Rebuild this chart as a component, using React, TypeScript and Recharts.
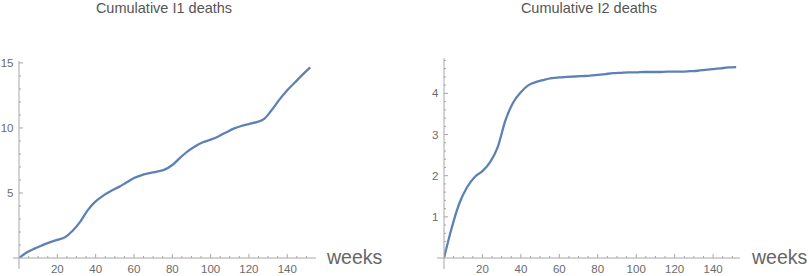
import React from 'react';
import { LineChart, Line, XAxis, YAxis, ReferenceLine } from 'recharts';

const weeks = [0, 4, 8, 12, 16, 20, 24, 28, 32, 36, 40, 44, 48, 52, 56, 60, 64, 68, 72, 76, 80, 84, 88, 92, 96, 100, 104, 108, 112, 116, 120, 124, 128, 132, 136, 140, 144, 148, 152];
const i1Deaths = [0, 0.42, 0.72, 0.97, 1.2, 1.4, 1.6, 2.1, 2.8, 3.7, 4.35, 4.8, 5.15, 5.45, 5.8, 6.15, 6.38, 6.52, 6.65, 6.8, 7.15, 7.7, 8.2, 8.6, 8.9, 9.1, 9.35, 9.65, 9.95, 10.15, 10.3, 10.45, 10.7, 11.4, 12.2, 12.9, 13.5, 14.1, 14.66];
const i2Deaths = [0, 0.73, 1.33, 1.72, 1.97, 2.11, 2.33, 2.7, 3.35, 3.78, 4.03, 4.2, 4.28, 4.33, 4.37, 4.39, 4.4, 4.41, 4.42, 4.43, 4.45, 4.47, 4.49, 4.5, 4.51, 4.51, 4.52, 4.52, 4.52, 4.53, 4.53, 4.53, 4.54, 4.55, 4.57, 4.59, 4.61, 4.63, 4.64];

const xTicks = [5, 10, 15, 20, 25, 30, 35, 40, 45, 50, 55, 60, 65, 70, 75, 80, 85, 90, 95, 100, 105, 110, 115, 120, 125, 130, 135, 140, 145, 150];
const xMajor = [20, 40, 60, 80, 100, 120, 140];
const y1Ticks = [1, 2, 3, 4, 5, 6, 7, 8, 9, 10, 11, 12, 13, 14, 15];
const y1Major = [5, 10, 15];
const y2Ticks = [0.2, 0.4, 0.6, 0.8, 1, 1.2, 1.4, 1.6, 1.8, 2, 2.2, 2.4, 2.6, 2.8, 3, 3.2, 3.4, 3.6, 3.8, 4, 4.2, 4.4, 4.6, 4.8];
const y2Major = [1, 2, 3, 4];

const i1Data = weeks.map((w, i) => ({ w, v: i1Deaths[i] }));
const i2Data = weeks.map((w, i) => ({ w, v: i2Deaths[i] }));

const AXIS = '#a6a6a6';
const LABEL = '#6b6b6b';
const LINE = '#5E81B5';
const FONT = '"Liberation Sans", Arial, sans-serif';

const isMajor = (list: number[], v: number) => list.some((m) => Math.abs(m - v) < 1e-6);

const makeXTick = (major: number[]) => (props: any) => {
  const { x, y, payload } = props;
  const big = isMajor(major, payload.value);
  return (
    <g>
      <line x1={x} x2={x} y1={y} y2={y - (big ? 4 : 2)} stroke={AXIS} strokeWidth={1} />
      {big && (
        <text x={x} y={y + 15} textAnchor="middle" fill={LABEL} fontSize={11.5} fontFamily={FONT}>
          {payload.value}
        </text>
      )}
    </g>
  );
};

const makeYTick = (major: number[]) => (props: any) => {
  const { x, y, payload } = props;
  const big = isMajor(major, payload.value);
  return (
    <g>
      <line x1={x} x2={x + (big ? 4 : 2)} y1={y} y2={y} stroke={AXIS} strokeWidth={1} />
      {big && (
        <text x={x - 5.5} y={y + 4} textAnchor="end" fill={LABEL} fontSize={11.5} fontFamily={FONT}>
          {Math.round(payload.value)}
        </text>
      )}
    </g>
  );
};

const titleStyle: React.CSSProperties = {
  position: 'absolute',
  top: 0,
  fontFamily: FONT,
  fontSize: 14.5,
  color: '#555',
  textAlign: 'center',
  whiteSpace: 'nowrap',
};

const weeksStyle: React.CSSProperties = {
  position: 'absolute',
  fontFamily: FONT,
  fontSize: 19.5,
  color: '#666',
  whiteSpace: 'nowrap',
  lineHeight: '20px',
};

export default function App() {
  return (
    <div style={{ position: 'absolute', left: 0, top: 0, width: 809, height: 276, background: '#fff', overflow: 'hidden' }}>
      <div style={{ ...titleStyle, left: 64, width: 200 }}>Cumulative I1 deaths</div>
      <div style={{ ...titleStyle, left: 489, width: 200 }}>Cumulative I2 deaths</div>
      <div style={{ ...weeksStyle, left: 327, top: 247 }}>weeks</div>
      <div style={{ ...weeksStyle, left: 752, top: 247 }}>weeks</div>

      <div style={{ position: 'absolute', left: 0, top: 0 }}>
        <LineChart width={400} height={276} data={i1Data} margin={{ top: 61, right: 84, bottom: 0, left: 0 }}>
          <XAxis
            dataKey="w"
            type="number"
            domain={[0, 155]}
            ticks={xTicks}
            interval={0}
            height={18}
            tickSize={0}
            tickMargin={0}
            tickLine={false}
            axisLine={{ stroke: AXIS }}
            tick={makeXTick(xMajor)}
            allowDataOverflow
          />
          <YAxis
            type="number"
            domain={[0, 15.15]}
            ticks={y1Ticks}
            interval={0}
            width={19}
            tickSize={0}
            tickMargin={0}
            tickLine={false}
            axisLine={{ stroke: AXIS }}
            tick={makeYTick(y1Major)}
            allowDataOverflow
          />
          <ReferenceLine segment={[{ x: 0, y: 0 }, { x: 0, y: -0.85 }]} stroke={AXIS} ifOverflow="visible" />
          <ReferenceLine segment={[{ x: -3.1, y: 0 }, { x: 0, y: 0 }]} stroke={AXIS} ifOverflow="visible" />
          <Line type="monotone" dataKey="v" stroke={LINE} strokeWidth={2.3} dot={false} isAnimationActive={false} />
        </LineChart>
      </div>

      <div style={{ position: 'absolute', left: 400, top: 0 }}>
        <LineChart width={409} height={276} data={i2Data} margin={{ top: 58, right: 69, bottom: 0, left: 0 }}>
          <XAxis
            dataKey="w"
            type="number"
            domain={[0, 154]}
            ticks={xTicks}
            interval={0}
            height={18}
            tickSize={0}
            tickMargin={0}
            tickLine={false}
            axisLine={{ stroke: AXIS }}
            tick={makeXTick(xMajor)}
            allowDataOverflow
          />
          <YAxis
            type="number"
            domain={[0, 4.86]}
            ticks={y2Ticks}
            interval={0}
            width={44}
            tickSize={0}
            tickMargin={0}
            tickLine={false}
            axisLine={{ stroke: AXIS }}
            tick={makeYTick(y2Major)}
            allowDataOverflow
          />
          <ReferenceLine segment={[{ x: 0, y: 0 }, { x: 0, y: -0.27 }]} stroke={AXIS} ifOverflow="visible" />
          <ReferenceLine segment={[{ x: -3.6, y: 0 }, { x: 0, y: 0 }]} stroke={AXIS} ifOverflow="visible" />
          <Line type="monotone" dataKey="v" stroke={LINE} strokeWidth={2.3} dot={false} isAnimationActive={false} />
        </LineChart>
      </div>
    </div>
  );
}
